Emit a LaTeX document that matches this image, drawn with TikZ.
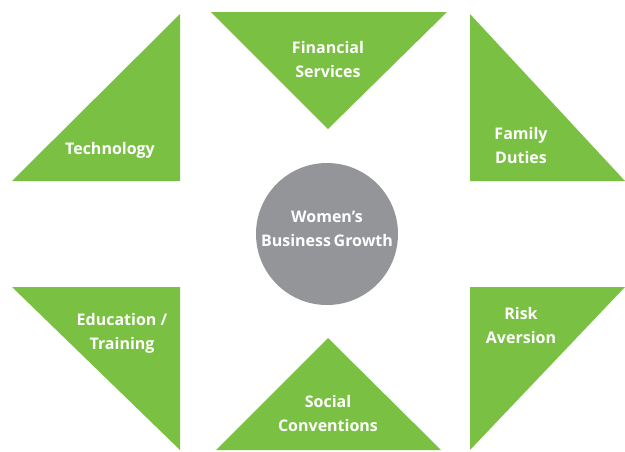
\documentclass[tikz,border=0pt]{standalone}
\usepackage{fontspec}
\setmainfont{Open Sans}
\definecolor{leaf}{HTML}{7AC143}
\definecolor{stone}{HTML}{939598}
\tikzset{
  tri/.style={fill=leaf, draw=none},
  lbl/.style={text=white, align=center, font=\bfseries\fontsize{16}{24}\selectfont, inner sep=0pt}
}
\begin{document}
\begin{tikzpicture}[x=1pt,y=-1pt]
\useasboundingbox (0,0) rectangle (625,451);
% triangles
\fill[tri] (12,181) -- (180,181) -- (180,14) -- cycle;
\fill[tri] (211,12) -- (447,12) -- (328,129) -- cycle;
\fill[tri] (470,14) -- (470,181) -- (625,181) -- cycle;
\fill[tri] (12,287) -- (180,287) -- (180,450) -- cycle;
\fill[tri] (216,450) -- (441,450) -- (328,338) -- cycle;
\fill[tri] (470,287) -- (625,287) -- (470,450) -- cycle;
% centre circle
\node[circle, fill=stone, minimum size=142pt, inner sep=0pt] (hub) at (327,234) {};
% labels
\node[lbl] (tech) at (110,150) {Technology};
\node[lbl] (fin) at (328,59) {Financial\\Services};
\node[lbl] (fam) at (521,145) {Family\\Duties};
\node[lbl] (grow) at (327,229) {Women’s\\Business\,Growth};
\node[lbl] (edu) at (122,333) {Education /\\Training};
\node[lbl] (soc) at (328,413) {Social\\Conventions};
\node[lbl] (risk) at (521,325) {Risk\\Aversion};
\end{tikzpicture}
\end{document}
